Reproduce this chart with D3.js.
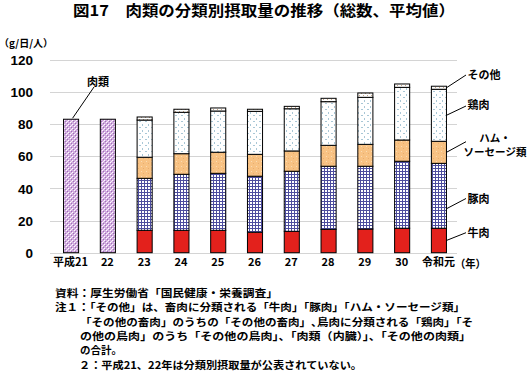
<!DOCTYPE html>
<html>
<head>
<meta charset="utf-8">
<script src="https://cdn.jsdelivr.net/npm/d3@7"></script>
<style>
  body { margin: 0; background: #fff; }
  svg { display: block; }
  text { font-family: "Noto Sans CJK JP", "Noto Sans", sans-serif; fill: #000; }
  .num { font-family: "Liberation Sans", Arial, sans-serif; font-weight: bold; }
</style>
</head>
<body>
<svg id="chart" width="528" height="375"></svg>
<script>
// Data (g/日/人)
var years = ["平成21", "22", "23", "24", "25", "26", "27", "28", "29", "30", "令和元"];
var meatTotal = [82.9, 82.9, null, null, null, null, null, null, null, null, null];
var beef    = [0, 0, 13.9, 13.9, 13.9, 12.7, 13.3, 14.5, 14.7, 15.2, 15.2];
var pork    = [0, 0, 32.3, 34.8, 35.4, 34.8, 37.3, 39.2, 39.0, 41.6, 40.3];
var ham     = [0, 0, 13.1, 12.8, 13.1, 13.6, 12.6, 13.0, 13.6, 13.2, 13.7];
var chicken = [0, 0, 23.1, 25.7, 25.6, 26.7, 26.2, 27.1, 29.2, 32.7, 32.3];
var other   = [0, 0, 1.9, 1.9, 1.9, 1.3, 1.5, 2.1, 2.7, 2.1, 1.9];
var seriesKeys = ["beef", "pork", "ham", "chicken", "other"];
var seriesNames = {beef: ["牛肉"], pork: ["豚肉"], ham: ["ハム・", "ソーセージ類"], chicken: ["鶏肉"], other: ["その他"]};
var yTicks = [0, 20, 40, 60, 80, 100, 120];
var notes = [
  "資料：厚生労働省「国民健康・栄養調査」",
  "注１：「その他」は、畜肉に分類される「牛肉」「豚肉」「ハム・ソーセージ類」",
  "「その他の畜肉」のうちの「その他の畜肉」､鳥肉に分類される「鶏肉」「そ",
  "の他の鳥肉」のうち「その他の鳥肉」、「肉類（内臓）」、「その他の肉類」",
  "の合計。",
  "２：平成21、22年は分類別摂取量が公表されていない。"
];

var svg = d3.select("#chart");

// patterns
var defs = svg.append("defs");
function pattern(id, w, h, bg, dots) {
  var p = defs.append("pattern").attr("id", id).attr("patternUnits", "userSpaceOnUse")
    .attr("width", w).attr("height", h);
  p.append("rect").attr("width", w).attr("height", h).attr("fill", bg);
  dots.forEach(function (d) {
    p.append("rect").attr("x", d[0]).attr("y", d[1]).attr("width", d[2]).attr("height", d[3]).attr("fill", d[4]);
  });
}
pattern("meatPat", 4, 4, "#d3afe0", [[0, 0, 1, 1, "#fff"], [2, 2, 1, 1, "#fff"], [1, 1, 1, 1, "#9f6fb8"], [3, 3, 1, 1, "#9f6fb8"], [3, 1, 1, 1, "#f3e8f6"]]);
pattern("porkPat", 3, 3, "#ffffff", [[0, 0, 3, 1, "#4d4d9e"], [0, 0, 1, 3, "#4d4d9e"]]);
pattern("hamPat", 5, 5, "#f8c283", [[1, 1, 1, 1, "#fbdcb6"], [3, 3, 1, 1, "#e9ad70"]]);
pattern("chickenPat", 6, 6, "#ffffff", [[1, 1, 2, 1, "#a9c7d6"], [4, 4, 1, 2, "#a9c7d6"]]);
pattern("otherPat", 4, 4, "#ffffff", [[1, 1, 1, 1, "#c8a888"], [3, 3, 1, 1, "#c8a888"]]);
var fills = {beef: "#e3211c", pork: "url(#porkPat)", ham: "url(#hamPat)", chicken: "url(#chickenPat)", other: "url(#otherPat)"};

var x = d3.scaleBand().domain(years).range([52, 457]).paddingInner(0.59).paddingOuter(0.3);
var y = d3.scaleLinear().domain([0, 120]).range([252.7, 59.5]);

// title
svg.append("text").attr("x", 264).attr("y", 15.5).attr("text-anchor", "middle")
  .attr("font-size", 15).attr("font-weight", "bold")
  .attr("textLength", 382).attr("lengthAdjust", "spacingAndGlyphs")
  .text("図17　肉類の分類別摂取量の推移（総数、平均値）");

svg.append("text").attr("x", -1).attr("y", 47).attr("font-size", 10).attr("font-weight", "bold")
  .text("（g/日/人）");

// grid
svg.append("g").selectAll("line").data(yTicks).enter().append("line")
  .attr("x1", 50).attr("x2", 457)
  .attr("y1", function (d) { return Math.round(y(d)) + 0.5; })
  .attr("y2", function (d) { return Math.round(y(d)) + 0.5; })
  .attr("stroke", "#d4d4d4").attr("stroke-width", 1);

// y axis labels
var yAxis = d3.axisLeft(y).tickValues(yTicks).tickSize(0).tickPadding(0);
var yg = svg.append("g").attr("transform", "translate(33,0)").call(yAxis);
yg.select(".domain").remove();
yg.selectAll("text").attr("class", "num").attr("font-size", 13.5).attr("fill", "#000")
  .attr("dy", "0.36em");

// x axis labels
var xAxis = d3.axisBottom(x).tickSize(0).tickPadding(0);
var xg = svg.append("g").attr("transform", "translate(0,259)").call(xAxis);
xg.select(".domain").remove();
xg.selectAll("text").attr("font-size", 11).attr("font-weight", "bold").attr("fill", "#000")
  .style("font-family", "'Noto Sans CJK JP', sans-serif").attr("dy", "0.65em");
svg.append("text").attr("x", x("令和元") + x.bandwidth() / 2 + 16.5).attr("y", 268)
  .attr("font-size", 11).attr("font-weight", "bold")
  .attr("textLength", 31).attr("lengthAdjust", "spacingAndGlyphs").text("（年）");

// total meat bars (平成21, 22)
svg.append("g").selectAll("rect").data(years.filter(function (d, i) { return meatTotal[i] != null; }))
  .enter().append("rect")
  .attr("x", function (d) { return x(d) + 0.5; })
  .attr("width", x.bandwidth())
  .attr("y", function (d) { return y(meatTotal[years.indexOf(d)]); })
  .attr("height", function (d) { return y(0) - y(meatTotal[years.indexOf(d)]); })
  .attr("fill", "url(#meatPat)").attr("stroke", "#000").attr("stroke-width", 1);

// stacked bars
var rows = years.map(function (yr, i) {
  return {year: yr, beef: beef[i], pork: pork[i], ham: ham[i], chicken: chicken[i], other: other[i]};
}).filter(function (r) { return r.beef > 0; });
var stacked = d3.stack().keys(seriesKeys)(rows);

svg.append("g").selectAll("g").data(stacked).enter().append("g")
  .attr("fill", function (s) { return fills[s.key]; })
  .selectAll("rect").data(function (s) { return s; }).enter().append("rect")
  .attr("x", function (d) { return x(d.data.year) + 0.5; })
  .attr("width", x.bandwidth())
  .attr("y", function (d) { return y(d[1]); })
  .attr("height", function (d) { return y(d[0]) - y(d[1]); })
  .attr("stroke", "#000").attr("stroke-width", 1);

// 肉類 label
var b0 = years[0];
svg.append("line").attr("x1", x(b0) + x.bandwidth() / 2 + 2).attr("y1", y(meatTotal[0]) - 1)
  .attr("x2", 94).attr("y2", 87).attr("stroke", "#000").attr("stroke-width", 1);
svg.append("text").attr("x", 98).attr("y", 85.5).attr("text-anchor", "middle")
  .attr("font-size", 11).attr("font-weight", "bold").text("肉類");

// series labels on the right, leader lines from the last bar
var last = years[years.length - 1];
var anchorFrac = {beef: 0.5, pork: 0.3, ham: 0.5, chicken: 0.5, other: 0.5};
var labelY = {beef: 232.7, pork: 198.5, ham: 141.7, chicken: 106, other: 75};
var textY = {beef: [236.5], pork: [202.5], ham: [141.5, 156], chicken: [109], other: [79]};
stacked.forEach(function (s) {
  var seg = s[s.length - 1];
  var ya = y(seg[0] + (seg[1] - seg[0]) * anchorFrac[s.key]);
  svg.append("line").attr("x1", x(last) + x.bandwidth() + 0.5).attr("y1", ya)
    .attr("x2", 466).attr("y2", labelY[s.key]).attr("stroke", "#000").attr("stroke-width", 1);
  var names = seriesNames[s.key];
  names.forEach(function (n, j) {
    var t = svg.append("text").attr("y", textY[s.key][j]).attr("font-size", names.length > 1 ? 10.5 : 11)
      .attr("font-weight", "bold").text(n);
    if (names.length > 1) t.attr("x", 495).attr("text-anchor", "middle");
    else t.attr("x", 467.5);
  });
});

// notes
var noteX = [55, 55, 80, 80, 80, 79];
var noteY = [297, 311.2, 325.6, 339.8, 354.2, 368.5];
var noteLen = [223, 410, 393, 391, null, 283];
notes.forEach(function (n, i) {
  var t = svg.append("text").attr("x", noteX[i]).attr("y", noteY[i])
    .attr("font-size", 10.5).attr("font-weight", "bold").text(n);
  if (noteLen[i]) t.attr("textLength", noteLen[i]).attr("lengthAdjust", "spacingAndGlyphs");
});
</script>
</body>
</html>
